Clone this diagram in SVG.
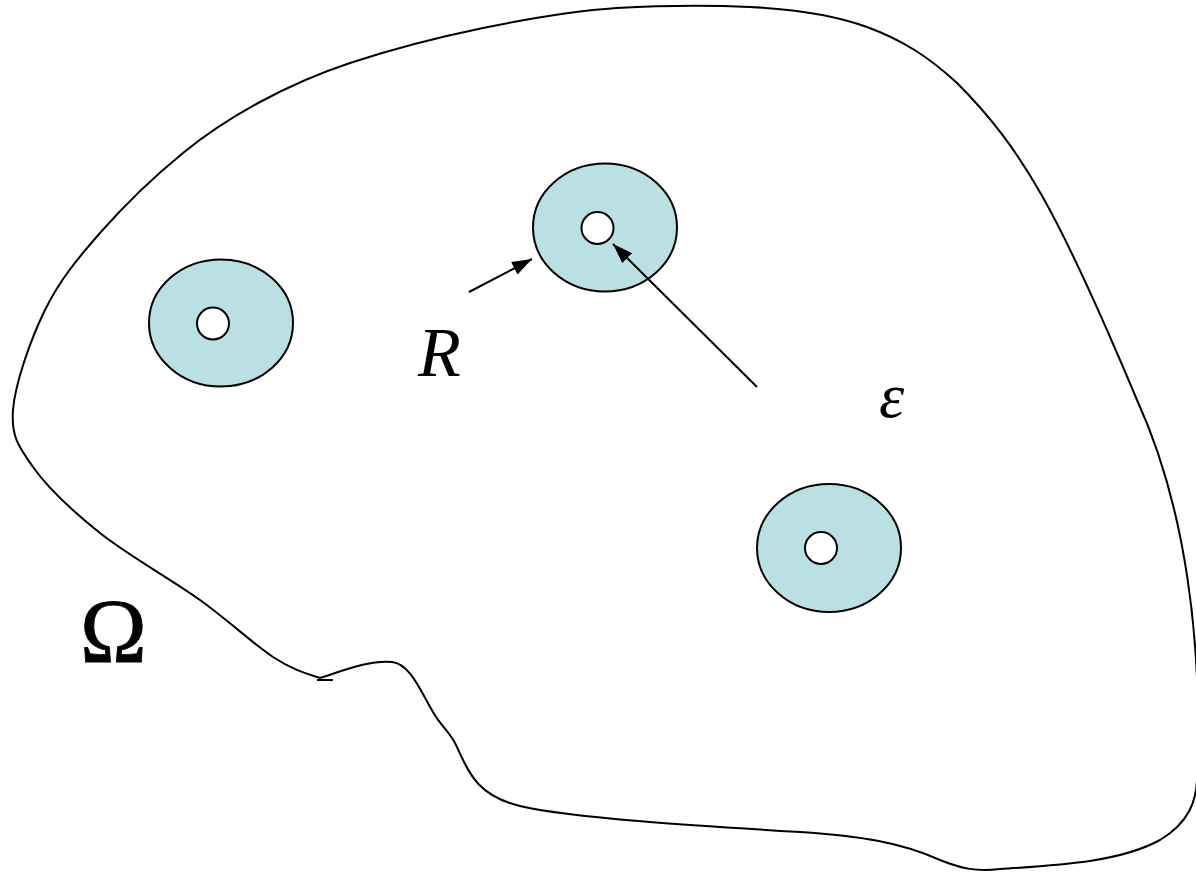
<svg xmlns="http://www.w3.org/2000/svg" width="1196" height="872" viewBox="0 0 1196 872">
<style>
.outline{fill:none;stroke:#000;stroke-width:2}
.disc{fill:#BBE0E3;stroke:#000;stroke-width:2}
.hole{fill:#fff;stroke:#000;stroke-width:2}
.conn{stroke:#000;stroke-width:2;fill:none}
</style>
<defs>
<marker id="ah" viewBox="0 0 20 14" refX="20" refY="7" markerWidth="20" markerHeight="14" markerUnits="userSpaceOnUse" orient="auto">
<path d="M0,0 L20,7 L0,14 Z" fill="#000"/>
</marker>
</defs>
<rect width="1196" height="872" fill="#fff"/>
<g id="domain">
<path class="outline" d="M 320 678 C 345 670, 370 660, 392 662 C 410 664, 420 690, 433 712 C 440 725, 450 732, 456 745 C 468 770, 475 795, 520 806 C 570 818, 700 826, 800 832 C 860 836, 900 842, 940 860 C 960 868, 975 872, 1000 869 C 1060 865, 1120 862, 1160 840 C 1190 822, 1196 800, 1197 780 C 1203 640, 1185 505, 1137 400 C 1057.8 211.2, 1021.8 147.8, 957 83 C 928.2 56.3, 901.5 39.7, 867 27 C 832.5 14.3, 791.7 9, 750 7 C 708.3 5, 661.5 5.5, 617 8 C 572.5 11, 527.5 18.8, 483 28 C 438.5 37.2, 387.2 50.7, 350 63 C 312.8 75.3, 287.8 87, 260 102 C 232.2 117, 209.7 131.2, 183 153 C 156.3 174.8, 123 206.8, 100 233 C 77 259.2, 59.5 280.5, 45 310 C 30.5 339.5, 15 383.8, 13 410 C 11 436.2, 18.5 446.5, 33 467 C 47.5 487.5, 72.2 510.8, 100 533 C 127.8 555.2, 171.2 579.3, 200 600 C 228.8 620.7, 253.3 644, 273 657 C 292.7 670, 307.7 674, 320 678"/>
<line class="outline" x1="317" y1="680" x2="333" y2="680"/>
</g>
<g id="disc1">
<ellipse class="disc" cx="221" cy="323" rx="72" ry="63.5"/>
<circle class="hole" cx="213" cy="323.5" r="16"/>
</g>
<g id="disc2">
<ellipse class="disc" cx="605" cy="227.5" rx="72" ry="64"/>
<circle class="hole" cx="597.5" cy="228" r="16"/>
</g>
<g id="disc3">
<ellipse class="disc" cx="829" cy="548" rx="72" ry="64"/>
<circle class="hole" cx="821" cy="548" r="16"/>
</g>
<g id="connectors">
<line class="conn" x1="469" y1="292" x2="532" y2="259" marker-end="url(#ah)"/>
<line class="conn" x1="757" y1="387" x2="613" y2="244" marker-end="url(#ah)"/>
</g>
<g id="labels" fill="#000">
<text x="418" y="376" font-family="Liberation Serif, serif" font-size="70" font-style="italic">R</text>
<text x="879" y="417" font-family="Liberation Serif, serif" font-size="64" font-style="italic">ε</text>
<text x="80" y="662" font-family="Liberation Serif, serif" font-size="90" stroke="#000" stroke-width="0.8">Ω</text>
</g>
</svg>
